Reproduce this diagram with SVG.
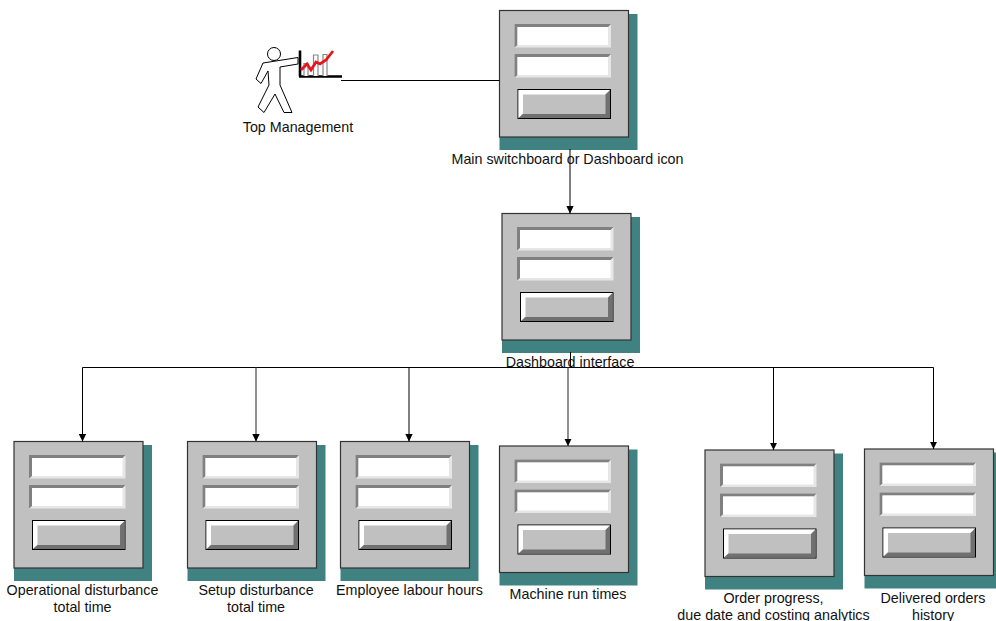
<svg xmlns="http://www.w3.org/2000/svg" xmlns:xlink="http://www.w3.org/1999/xlink" width="996" height="621" viewBox="0 0 996 621">
<style>
text{font-family:"Liberation Sans",Arial,sans-serif;font-size:14.300px;fill:#111;text-anchor:middle}
.c{fill:none;stroke:#000;stroke-width:1}
.g{fill:none;stroke:#555;stroke-width:1.300}
.fig{fill:#fff;stroke:#000;stroke-width:1;stroke-linejoin:round}
</style>
<defs>
<marker id="ah" markerUnits="userSpaceOnUse" markerWidth="8" markerHeight="8" refX="7.500" refY="4" orient="auto"><path d="M0,0.300L7.500,4L0,7.700Z" fill="#000"/></marker>
<symbol id="form" overflow="visible">
<rect x="0" y="3.500" width="138" height="136" fill="#408282"/>
<rect x="0" y="0" width="129" height="126.500" fill="#c0c0c0" stroke="#333" stroke-width="1.200"/>
<rect x="15" y="13.500" width="96.500" height="23.500" fill="#e6e6e6"/>
<path d="M15,13.500H111.500L108.500,16.500H18V34.500L15,37Z" fill="#808080"/>
<rect x="18" y="16.500" width="90.500" height="18" fill="#fff"/>
<rect x="15" y="43.500" width="96.500" height="23.500" fill="#e6e6e6"/>
<path d="M15,43.500H111.500L108.500,46.500H18V64.500L15,67Z" fill="#808080"/>
<rect x="18" y="46.500" width="90.500" height="18" fill="#fff"/>
<rect x="18.500" y="79" width="92.500" height="29" fill="#c0c0c0" stroke="#000" stroke-width="1"/>
<path d="M19,79.500H110.500L106,84H23.500V103L19,107.500Z" fill="#fff"/>
<path d="M110.500,79.500V107.500H19L23.500,103.500H106V84Z" fill="#707070"/>
</symbol>
</defs>
<g id="node-main"><use xlink:href="#form" href="#form" x="499.500" y="10.500"/><text x="567.500" y="163.500">Main switchboard or Dashboard icon</text></g>
<g id="node-dashboard"><use xlink:href="#form" href="#form" x="502" y="213.500"/><text x="570" y="366.500">Dashboard interface</text></g>
<g id="node-operational"><use xlink:href="#form" href="#form" x="14" y="441.500"/><text x="82.500" y="595">Operational disturbance</text><text x="82.500" y="612">total time</text></g>
<g id="node-setup"><use xlink:href="#form" href="#form" x="187.500" y="441.500"/><text x="256" y="595">Setup disturbance</text><text x="256" y="612">total time</text></g>
<g id="node-employee"><use xlink:href="#form" href="#form" x="340.500" y="441.500"/><text x="409.500" y="595">Employee labour hours</text></g>
<g id="node-machine"><use xlink:href="#form" href="#form" x="499.500" y="446"/><text x="568" y="599">Machine run times</text></g>
<g id="node-order"><use xlink:href="#form" href="#form" x="705" y="450"/><text x="773.500" y="603">Order progress,</text><text x="773.500" y="619.500">due date and costing analytics</text></g>
<g id="node-delivered"><use xlink:href="#form" href="#form" x="864.500" y="449"/><text x="933" y="603">Delivered orders</text><text x="933" y="619.500">history</text></g>
<g id="node-top-management">
<circle cx="274" cy="54" r="6.500" class="fig"/>
<path class="fig" d="M298,57.500L263,63L256,79L261,83.500L268,71L269,85L258,107L264,112.500L275,94L284,112.500L292,112.500L280,85L280,67L298,64Z"/>
<path d="M300,50.500V76.500M299,76.500H342" fill="none" stroke="#000" stroke-width="2.600"/>
<path d="M304,76V63.500H308V76M313.500,76V55H318V76M323,76V54.500H327V76" fill="#fff" stroke="#888" stroke-width="1.200"/>
<path d="M301,70L307,64L311,70L316,62L320,64L326,60L333,51" fill="none" stroke="#e8141c" stroke-width="2.800"/>
<text x="298" y="132">Top Management</text>
</g>
<g id="connectors">
<path class="c" d="M341,80.500H499.500"/>
<path class="c" d="M570,149V213.500" marker-end="url(#ah)"/>
<path class="c" d="M82.500,367.500H933.500"/>
<path class="c" d="M570.500,352V367.500"/>
<path class="c" d="M82.500,367.500V441.500" marker-end="url(#ah)"/>
<path class="g" d="M256,367.500V441.500" marker-end="url(#ah)"/>
<path class="c" d="M409,367.500V441.500" marker-end="url(#ah)"/>
<path class="g" d="M568,367.500V446" marker-end="url(#ah)"/>
<path class="c" d="M773.500,367.500V450" marker-end="url(#ah)"/>
<path class="c" d="M933.500,367.500V449" marker-end="url(#ah)"/>
</g>
</svg>
